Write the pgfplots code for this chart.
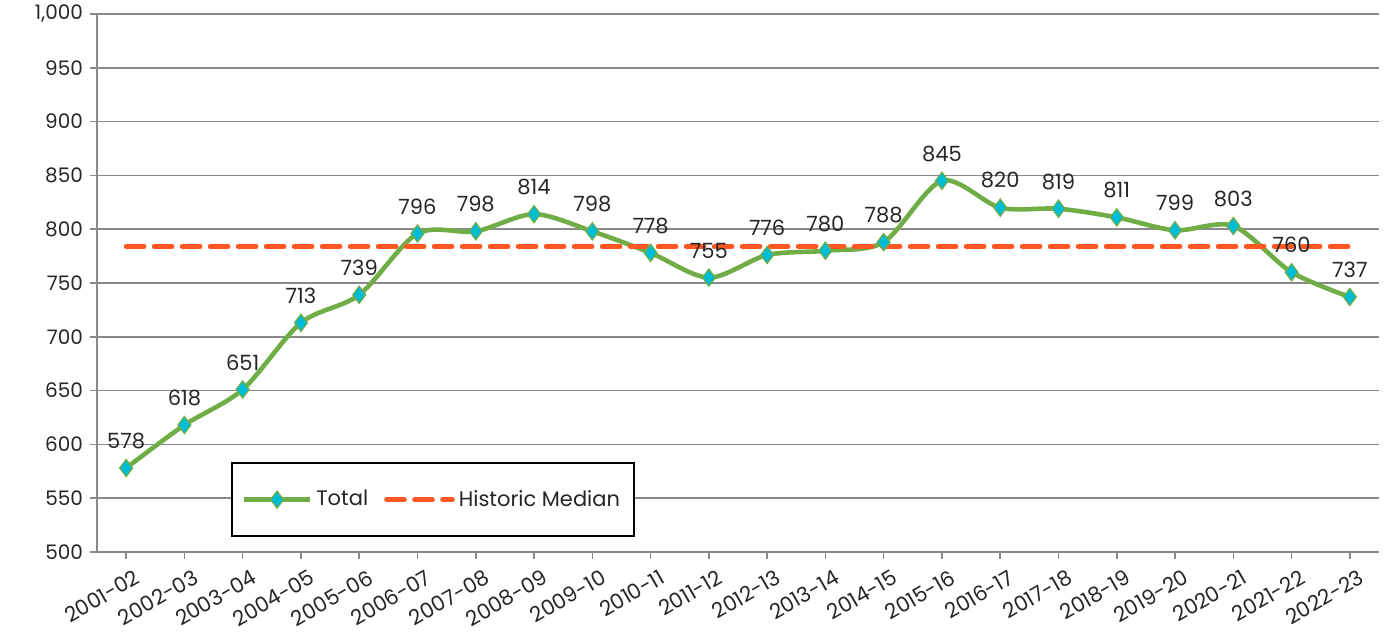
\documentclass[border=0pt]{standalone}
\usepackage{pgfplots}
\pgfplotsset{compat=1.18}
\usepackage{fontspec}
\setmainfont{Poppins}
\definecolor{lgreen}{RGB}{112,173,71}
\definecolor{lcyan}{RGB}{0,188,212}
\definecolor{lorange}{RGB}{255,87,34}
\definecolor{gridgray}{RGB}{137,137,137}
\definecolor{txt}{RGB}{38,38,38}
\begin{document}
\begin{tikzpicture}
\useasboundingbox (-48.5pt,-42pt) rectangle (645.5pt,276pt);
\begin{axis}[
  scale only axis,
  width=641pt, height=269pt,
  xmin=-0.5, xmax=21.5,
  ymin=500, ymax=1000,
  ytick distance=50,
  xtick={0,...,21},
  xticklabels={2001-02,2002-03,2003-04,2004-05,2005-06,2006-07,2007-08,2008-09,2009-10,2010-11,2011-12,2012-13,2013-14,2014-15,2015-16,2016-17,2017-18,2018-19,2019-20,2020-21,2021-22,2022-23},
  x tick label style={rotate=30, anchor=north east, font=\fontsize{10.5}{11}\selectfont, text=txt, inner sep=1pt, yshift=-5pt, xshift=2pt},
  y tick label style={font=\fontsize{10}{11}\selectfont, text=txt},
  /pgf/number format/assume math mode=true,
  /pgf/number format/1000 sep={,},
  axis lines=left,
  axis line style={-, gridgray, line width=0.8pt},
  tick style={gridgray, line width=0.8pt},
  tick align=outside,
  major tick length=3.5pt,
  ymajorgrids,
  grid style={gridgray, line width=0.8pt},
  legend columns=2,
  legend style={at={(axis description cs:0.1045,0.028)}, anchor=south west,
    draw=black, line width=0.8pt, fill=white, inner xsep=5pt, inner ysep=11.5pt,
    font=\fontsize{10.5}{12}\selectfont, text=txt,
    /tikz/every even column/.append style={column sep=6pt}},
  legend image code/.code={\draw[mark repeat=2,mark phase=2,#1] plot coordinates {(0cm,0cm)(0.58cm,0cm)(1.16cm,0cm)};},
  nodes near coords style={font=\fontsize{10.5}{12}\selectfont, text=txt, yshift=6pt},
]
\addplot[lgreen, line width=2.3pt, smooth, tension=0.5,
  mark=diamond*, mark size=4.3pt, mark options={fill=lcyan, draw=lgreen, line width=0.6pt},
  nodes near coords, point meta=explicit symbolic]
  table[meta=label] {
x y label
0 578 578
1 618 618
2 651 651
3 713 713
4 739 739
5 796 796
6 798 798
7 814 814
8 798 798
9 778 778
10 755 755
11 776 776
12 780 780
13 788 788
14 845 845
15 820 820
16 819 819
17 811 811
18 799 799
19 803 803
20 760 760
21 737 737
};
\addlegendentry{Total}
\addplot[lorange, line width=2.3pt, dash pattern=on 9pt off 5pt, line cap=round]
  coordinates {(0,784) (21,784)};
\addlegendentry{Historic Median}
\end{axis}
\end{tikzpicture}
\end{document}
